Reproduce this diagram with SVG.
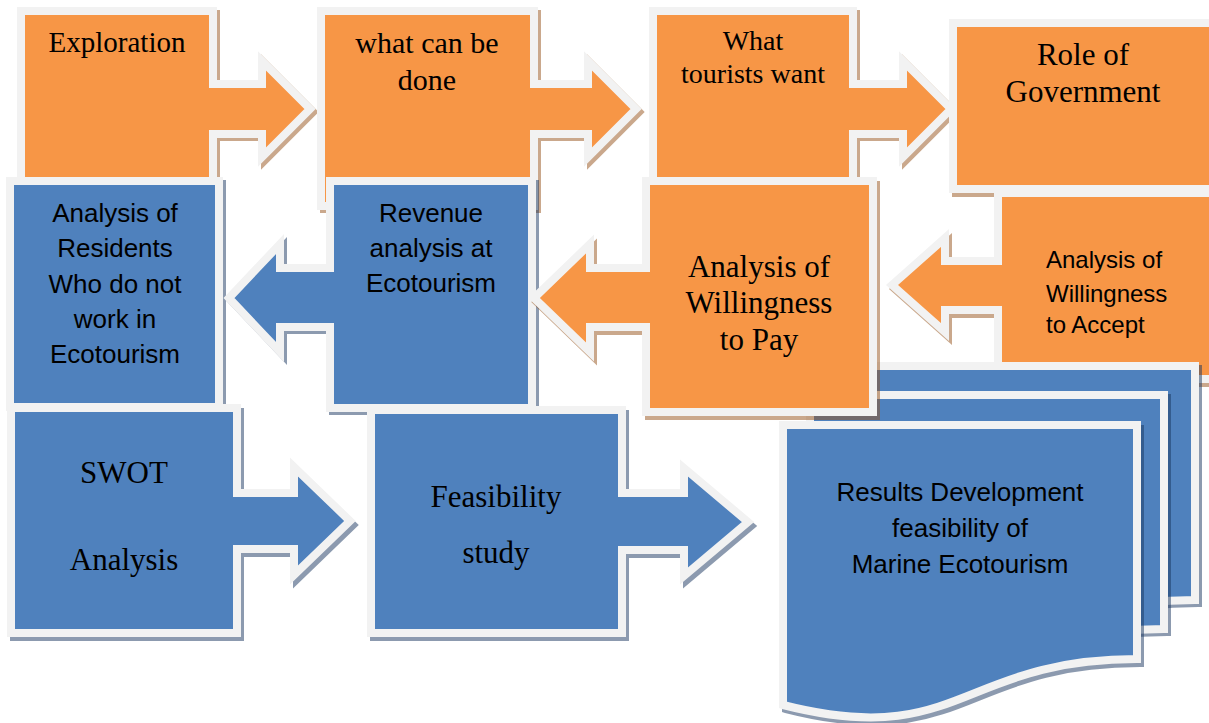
<svg xmlns="http://www.w3.org/2000/svg" width="1209" height="723" viewBox="0 0 1209 723">
<defs>
<style>
.o{fill:#F79646;stroke:#F2F2F2;stroke-width:8;stroke-linejoin:miter;stroke-miterlimit:10}
.b{fill:#4F81BD;stroke:#F2F2F2;stroke-width:8;stroke-linejoin:miter;stroke-miterlimit:10}
.so{fill:#96531B;stroke:#96531B;stroke-width:8;opacity:0.5}
.sb{fill:#1B3861;stroke:#1B3861;stroke-width:8;opacity:0.5}
.ser{font-family:"Liberation Serif","Times New Roman",serif;fill:#000;text-anchor:middle}
.san{font-family:"Liberation Sans",Arial,sans-serif;fill:#000;text-anchor:middle}
</style>
<path id="p1" d="M21,11 H213 V84 H262 V61 L310,109 L262,157 V134 H213 V206 H21 Z"/>
<path id="p2" d="M321,11 H534 V84 H588 V61 L636,109 L588,157 V134 H534 V206 H321 Z"/>
<path id="p3" d="M653,11 H853 V84 H903 V61 L951,109 L903,157 V134 H853 V206 H653 Z"/>
<path id="p4" d="M953,23 H1216 V189 H953 Z"/>
<path id="p5" d="M998,193 H1216 V379 H998 V310 H945 V332 L892,285 L945,238 V261 H998 Z"/>
<path id="p6" d="M10,181 H219 V407 H10 Z"/>
<path id="p7" d="M330,181 H532 V408 H330 V327 H280 V352 L229,298 L280,244 V268 H330 Z"/>
<path id="doc" d="M783,425 H1137 V659 C960,659 960,750 783,705 Z"/>
<path id="p9" d="M646,181 H873 V412 H646 V327 H590 V352 L534,298 L590,244 V268 H646 Z"/>
<path id="p10" d="M11,408 H237 V493 H294 V467 L350,521 L294,575 V549 H237 V633 H11 Z"/>
<path id="p11" d="M371,410 H622 V493 H684 V468 L748,522 L684,576 V550 H622 V633 H371 Z"/>
</defs>
<rect width="1209" height="723" fill="#FFFFFF"/>
<g id="connectors"></g>
<g id="n-exploration">
<use href="#p1" class="so" transform="translate(3,3)"/>
<use href="#p1" class="o"/>
<text class="ser" x="117" y="52" font-size="29">Exploration</text>
</g>
<g id="n-whatcan">
<use href="#p2" class="so" transform="translate(3,3)"/>
<use href="#p2" class="o"/>
<text class="ser" x="427" y="53" font-size="30">what can be</text>
<text class="ser" x="427" y="90" font-size="30">done</text>
</g>
<g id="n-tourists">
<use href="#p3" class="so" transform="translate(3,3)"/>
<use href="#p3" class="o"/>
<text class="ser" x="753" y="50" font-size="28">What</text>
<text class="ser" x="753" y="83" font-size="28">tourists want</text>
</g>
<g id="n-government">
<use href="#p4" class="so" transform="translate(3,4)"/>
<use href="#p4" class="o"/>
<text class="ser" x="1083" y="65" font-size="31">Role of</text>
<text class="ser" x="1083" y="102" font-size="31">Government</text>
</g>
<g id="n-wta">
<use href="#p5" class="so" transform="translate(3,4)"/>
<use href="#p5" class="o"/>
<text class="san" x="1046" y="268" font-size="24" text-anchor="start" style="text-anchor:start">Analysis of</text>
<text class="san" x="1046" y="302" font-size="24" style="text-anchor:start">Willingness</text>
<text class="san" x="1046" y="333" font-size="24" style="text-anchor:start">to Accept</text>
</g>
<g id="n-residents">
<use href="#p6" class="sb" transform="translate(3,3)"/>
<use href="#p6" class="b"/>
<text class="san" x="115" y="222" font-size="26">Analysis of</text>
<text class="san" x="115" y="257" font-size="26">Residents</text>
<text class="san" x="115" y="293" font-size="26">Who do not</text>
<text class="san" x="115" y="328" font-size="26">work in</text>
<text class="san" x="115" y="363" font-size="26">Ecotourism</text>
</g>
<g id="n-revenue">
<use href="#p7" class="sb" transform="translate(3,3)"/>
<use href="#p7" class="b"/>
<text class="san" x="431" y="222" font-size="26">Revenue</text>
<text class="san" x="431" y="257" font-size="26">analysis at</text>
<text class="san" x="431" y="292" font-size="26">Ecotourism</text>
</g>
<g id="n-results">
<use href="#doc" class="sb" transform="translate(61,-56)"/>
<use href="#doc" class="b" transform="translate(58,-59)"/>
<use href="#doc" class="sb" transform="translate(30,-27)"/>
<use href="#doc" class="b" transform="translate(27,-30)"/>
<use href="#doc" class="sb" transform="translate(3,4)"/>
<use href="#doc" class="b"/>
<text class="san" x="960" y="501" font-size="26">Results Development</text>
<text class="san" x="960" y="537" font-size="26">feasibility of</text>
<text class="san" x="960" y="573" font-size="26">Marine Ecotourism</text>
</g>
<g id="n-wtp">
<use href="#p9" class="so" transform="translate(3,4)"/>
<use href="#p9" class="o"/>
<text class="ser" x="759" y="277" font-size="31">Analysis of</text>
<text class="ser" x="759" y="313" font-size="31">Willingness</text>
<text class="ser" x="759" y="350" font-size="31">to Pay</text>
</g>
<g id="n-swot">
<use href="#p10" class="sb" transform="translate(3,4)"/>
<use href="#p10" class="b"/>
<text class="ser" x="124" y="483" font-size="31">SWOT</text>
<text class="ser" x="124" y="570" font-size="31">Analysis</text>
</g>
<g id="n-feasibility">
<use href="#p11" class="sb" transform="translate(3,4)"/>
<use href="#p11" class="b"/>
<text class="ser" x="496" y="507" font-size="31">Feasibility</text>
<text class="ser" x="496" y="563" font-size="31">study</text>
</g>
</svg>
